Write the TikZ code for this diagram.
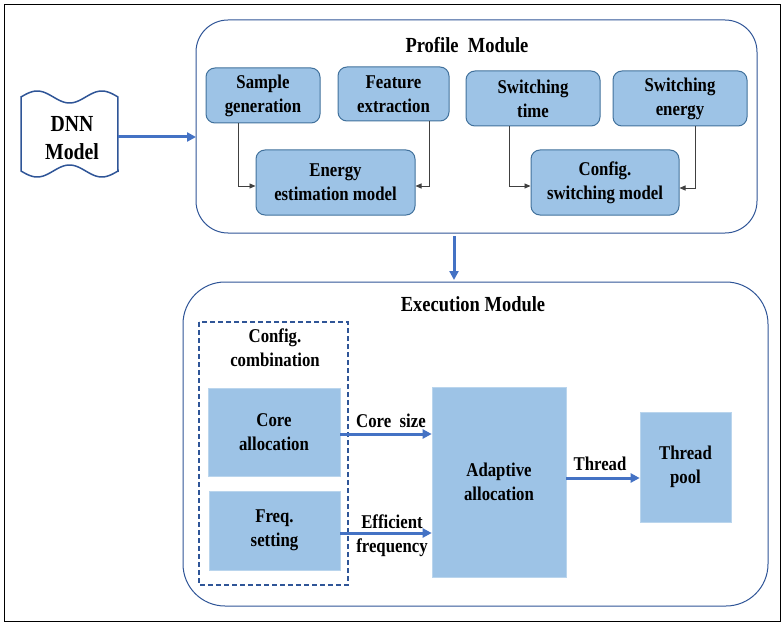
\documentclass[tikz,border=0pt]{standalone}
\usepackage{fontspec}
\setmainfont[FakeStretch=0.86]{Liberation Serif}
\usetikzlibrary{arrows.meta,calc}
\definecolor{fillc}{RGB}{157,195,230}
\definecolor{pborder}{RGB}{65,113,156}
\definecolor{modborder}{RGB}{47,85,151}
\definecolor{arrowc}{RGB}{68,114,196}
\begin{document}
\begin{tikzpicture}[x=1pt,y=-1pt,
  txt/.style={font=\fontsize{19.5}{24}\selectfont\bfseries, align=center, inner sep=0pt},
  ttl/.style={font=\fontsize{21.5}{24}\selectfont\bfseries, inner sep=0pt},
  pbox/.style={txt, draw=pborder, line width=1pt, fill=fillc, rounded corners=9pt},
  ebox/.style={txt, fill=fillc, draw=fillc!70!white, line width=0.6pt},
  modbox/.style={draw=modborder, line width=1pt},
  conn/.style={draw=black!75, line width=0.8pt, -{Triangle[length=6pt,width=5pt]}},
  bigarrow/.style={draw=arrowc, line width=3pt, -{Triangle[length=9pt,width=9pt]}},
  lbl/.style={txt}]
\useasboundingbox (0,0) rectangle (782,623);
% outer frame
\draw[black, line width=1.2pt] (4.5,4.5) rectangle (780.5,621.5);

% modules
\draw[modbox, rounded corners=32pt] (196,20) rectangle (757,233);
\node[ttl] (ptitle) at (467,45) {Profile~~Module};
\draw[modbox, rounded corners=42pt] (183,282) rectangle (768,606);
\node[ttl] (etitle) at (473,304) {Execution Module};
\coordinate (pmleft) at (196,137);
\coordinate (pmbot) at (454,236);
\coordinate (emtop) at (454,280);

% DNN model wavy document
\draw[modborder, line width=1.5pt]
  plot[domain=0:1, samples=60] ({21+97*\x},{97-6*sin(540*\x)})
  -- (118,172)
  -- plot[domain=1:0, samples=60] ({21+97*\x},{171+6*sin(540*\x)})
  -- cycle;
\node[txt, font=\fontsize{23}{28}\selectfont\bfseries] (dnn) at (72,138) {DNN\\Model};
\coordinate (dnnr) at (118,137);
\draw[bigarrow] (dnnr) -- (pmleft);

% profile boxes
\node[pbox, minimum width=114pt, minimum height=55pt] (sg) at (263,95.5) {Sample\\generation};
\node[pbox, minimum width=111pt, minimum height=54pt] (fe) at (393.5,94) {Feature\\extraction};
\node[pbox, minimum width=159pt, minimum height=65pt] (ee) at (335.5,182.5) {Energy\\estimation model};
\node[pbox, minimum width=134pt, minimum height=55pt] (st) at (533,98.5) {Switching\\time};
\node[pbox, minimum width=134pt, minimum height=55pt] (se) at (680,98.5) {Switching\\energy};
\node[pbox, minimum width=148pt, minimum height=65pt] (cs) at (605,182.5) {Config.\\switching model};

\draw[conn] (sg.south -| 238,0) |- (ee.west |- 0,186);
\draw[conn] (fe.south -| 429,0) |- (ee.east |- 0,186);
\draw[conn] (st.south -| 509,0) |- (cs.west |- 0,186);
\draw[conn] (se.south -| 695,0) |- (cs.east |- 0,188);

\draw[bigarrow] (pmbot) -- (emtop);

% execution
\draw[modborder, line width=1.6pt, dash pattern=on 5pt off 3pt] (199,322) rectangle (348,585);
\node[txt] (cc) at (275,348) {Config.\\combination};
\node[ebox, minimum width=132pt, minimum height=88pt] (ca) at (274,432) {Core\\allocation};
\node[ebox, minimum width=131pt, minimum height=79pt] (fs) at (274.5,530.5) {Freq.\\setting};
\node[ebox, minimum width=134pt, minimum height=190pt] (aa) at (499,482) {Adaptive\\allocation};
\node[ebox, minimum width=91pt, minimum height=110pt] (tp) at (685.5,467) {Thread\\pool};

\draw[bigarrow] (ca.east |- 0,434) -- (aa.west |- 0,434);
\node[lbl] (l1) at (391,421) {Core~~size};
\draw[bigarrow] (fs.east |- 0,533) -- (aa.west |- 0,533);
\node[lbl] (l2) at (392,536) {Efficient\\frequency};
\draw[bigarrow] (aa.east |- 0,478) -- (tp.west |- 0,478);
\node[lbl] (l3) at (600,464) {Thread};
\end{tikzpicture}
\end{document}
